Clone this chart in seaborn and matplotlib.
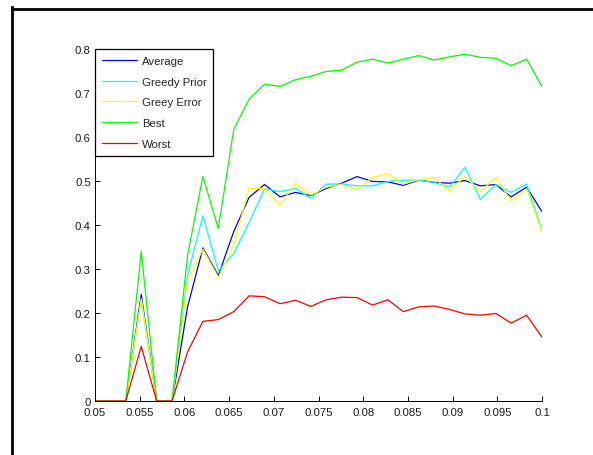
import numpy as np
import pandas as pd
import matplotlib
matplotlib.use("Agg")
import matplotlib.pyplot as plt
from matplotlib.lines import Line2D
import seaborn as sns

x = [0.05, 0.051724, 0.053448, 0.055172, 0.056897, 0.058621, 0.060345, 0.062069,
     0.063793, 0.065517, 0.067241, 0.068966, 0.070690, 0.072414, 0.074138, 0.075862,
     0.077586, 0.079310, 0.081034, 0.082759, 0.084483, 0.086207, 0.087931, 0.089655,
     0.091379, 0.093103, 0.094828, 0.096552, 0.098276, 0.1]

average = [0, 0, 0, 0.242, 0, 0, 0.213, 0.348, 0.285, 0.385, 0.463, 0.492, 0.464, 0.474,
           0.467, 0.483, 0.495, 0.510, 0.499, 0.498, 0.490, 0.502, 0.497, 0.495, 0.501,
           0.489, 0.492, 0.464, 0.486, 0.430]
greedy_prior = [0, 0, 0, 0.23, 0, 0, 0.285, 0.421, 0.296, 0.335, 0.406, 0.482, 0.476, 0.483,
                0.461, 0.493, 0.493, 0.489, 0.489, 0.499, 0.502, 0.502, 0.497, 0.486, 0.531,
                0.458, 0.492, 0.474, 0.493, 0.387]
greey_error = [0, 0, 0, 0.232, 0, 0, 0.273, 0.345, 0.281, 0.355, 0.483, 0.483, 0.445, 0.495,
               0.468, 0.486, 0.492, 0.480, 0.508, 0.517, 0.493, 0.503, 0.508, 0.477, 0.511,
               0.476, 0.508, 0.455, 0.482, 0.383]
best = [0, 0, 0, 0.340, 0, 0, 0.33, 0.510, 0.392, 0.617, 0.686, 0.720, 0.715, 0.730, 0.738,
        0.749, 0.752, 0.770, 0.777, 0.768, 0.777, 0.785, 0.775, 0.782, 0.788, 0.781, 0.779,
        0.762, 0.777, 0.714]
worst = [0, 0, 0, 0.124, 0, 0, 0.111, 0.181, 0.185, 0.203, 0.239, 0.237, 0.221, 0.229, 0.215,
         0.230, 0.236, 0.235, 0.218, 0.230, 0.203, 0.214, 0.216, 0.208, 0.198, 0.195, 0.199,
         0.177, 0.195, 0.145]

series_names = ["Average", "Greedy Prior", "Greey Error", "Best", "Worst"]
series_values = [average, greedy_prior, greey_error, best, worst]
colors = ["#0000ff", "#00ffff", "#ffff00", "#00ff00", "#ff0000"]

xticks = [0.05, 0.055, 0.06, 0.065, 0.07, 0.075, 0.08, 0.085, 0.09, 0.095, 0.1]
xticklabels = ["0.05", "0.055", "0.06", "0.065", "0.07", "0.075", "0.08", "0.085", "0.09", "0.095", "0.1"]
yticks = [0, 0.1, 0.2, 0.3, 0.4, 0.5, 0.6, 0.7, 0.8]
yticklabels = ["0", "0.1", "0.2", "0.3", "0.4", "0.5", "0.6", "0.7", "0.8"]

frames = []
for name, vals in zip(series_names, series_values):
    frames.append(pd.DataFrame({"x": x, "y": vals, "series": name}))
df = pd.concat(frames, ignore_index=True)

sns.set_style("white")
plt.rcParams["font.family"] = ["Liberation Sans", "DejaVu Sans"]

fig = plt.figure(figsize=(5.93, 4.56), dpi=100)
ax = fig.add_axes([95 / 593, 1 - 402 / 456, 447 / 593, 352 / 456])

sns.lineplot(data=df, x="x", y="y", hue="series", hue_order=series_names,
             palette=colors, estimator=None, sort=False, linewidth=0.9, ax=ax,
             legend=False)

ax.set_xlim(0.05, 0.1)
ax.set_ylim(0, 0.8)
ax.set_xticks(xticks)
ax.set_xticklabels(xticklabels)
ax.set_yticks(yticks)
ax.set_yticklabels(yticklabels)
ax.set_xlabel("")
ax.set_ylabel("")
for s in ["top", "right"]:
    ax.spines[s].set_visible(False)
for s in ["left", "bottom"]:
    ax.spines[s].set_color("black")
    ax.spines[s].set_linewidth(0.7)
ax.tick_params(axis="both", direction="in", length=3.5, width=0.7, color="black",
               labelsize=8.2, labelcolor="#1a1a1a", left=True, bottom=True)
ax.tick_params(axis="x", pad=4)
ax.tick_params(axis="y", pad=3)

handles = [Line2D([0], [0], color=c, lw=0.9) for c in colors]
leg = ax.legend(handles, series_names, loc="upper left", bbox_to_anchor=(0, 1),
                borderaxespad=0, fontsize=8.2, frameon=True, fancybox=False,
                handlelength=3.1, handletextpad=0.4, labelspacing=0.95,
                borderpad=0.6)
leg.get_frame().set_edgecolor("black")
leg.get_frame().set_linewidth(0.9)
leg.get_frame().set_facecolor("white")
leg.get_frame().set_alpha(1)

# outer frame (cropped figure border)
fig.add_artist(Line2D([12 / 593, 12 / 593], [0, 1 - 8.3 / 456], transform=fig.transFigure,
                      color="black", lw=2.0, solid_capstyle="projecting"))
fig.add_artist(Line2D([12 / 593, 1.0], [1 - 9.6 / 456, 1 - 9.6 / 456], transform=fig.transFigure,
                      color="black", lw=2.0, solid_capstyle="projecting"))

fig.savefig("out.png", dpi=100)
